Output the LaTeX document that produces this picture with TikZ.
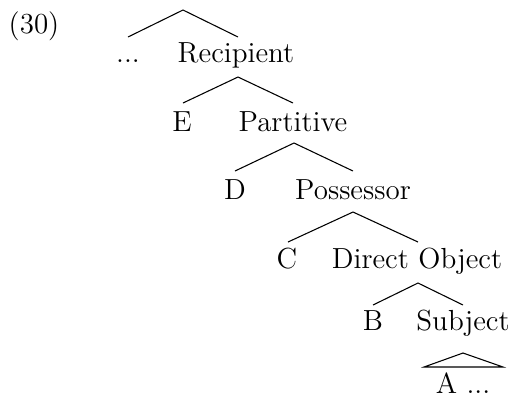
\documentclass[tikz,border=0pt]{standalone}
\begin{document}
\begin{tikzpicture}[x=0.42pt,y=-0.42pt,
  lbl/.style={inner sep=0pt,anchor=base,font=\fontsize{12.2}{14}\selectfont},
  branch/.style={line width=0.45pt}]
\useasboundingbox (0,0) rectangle (514,397);
% labels
\node[lbl] (ex) at (34,33) {(30)};
\node[lbl] (dots) at (128,62) {...};
\node[lbl] (rec) at (236,62) {Recipient};
\node[lbl] (E) at (182,131) {E};
\node[lbl] (part) at (293,131) {Partitive};
\node[lbl] (D) at (235,199) {D};
\node[lbl] (poss) at (353,199) {Possessor};
\node[lbl] (C) at (287,268) {C};
\node[lbl] (dobj) at (417,268) {Direct Object};
\node[lbl] (B) at (373,330) {B};
\node[lbl] (subj) at (463,330) {Subject};
\node[lbl] (A) at (463,393) {A ...};
% apexes and branch ends
\coordinate (t0) at (183,10);
\coordinate (t0l) at (128,37);
\coordinate (t0r) at (238,37);
\coordinate (t1) at (238,77);
\coordinate (t1l) at (183,103);
\coordinate (t1r) at (293,103);
\coordinate (t2) at (294,143);
\coordinate (t2l) at (235,171);
\coordinate (t2r) at (353,171);
\coordinate (t3) at (353,212);
\coordinate (t3l) at (288,242);
\coordinate (t3r) at (418,242);
\coordinate (t4) at (418,283);
\coordinate (t4l) at (373,305);
\coordinate (t4r) at (463,305);
\coordinate (t5) at (463,353);
\coordinate (t5l) at (424,367);
\coordinate (t5r) at (503,367);
% branches
\draw[branch] (t0l) -- (t0) -- (t0r);
\draw[branch] (t1l) -- (t1) -- (t1r);
\draw[branch] (t2l) -- (t2) -- (t2r);
\draw[branch] (t3l) -- (t3) -- (t3r);
\draw[branch] (t4l) -- (t4) -- (t4r);
\draw[branch] (t5l) -- (t5) -- (t5r) -- cycle;
\end{tikzpicture}
\end{document}
